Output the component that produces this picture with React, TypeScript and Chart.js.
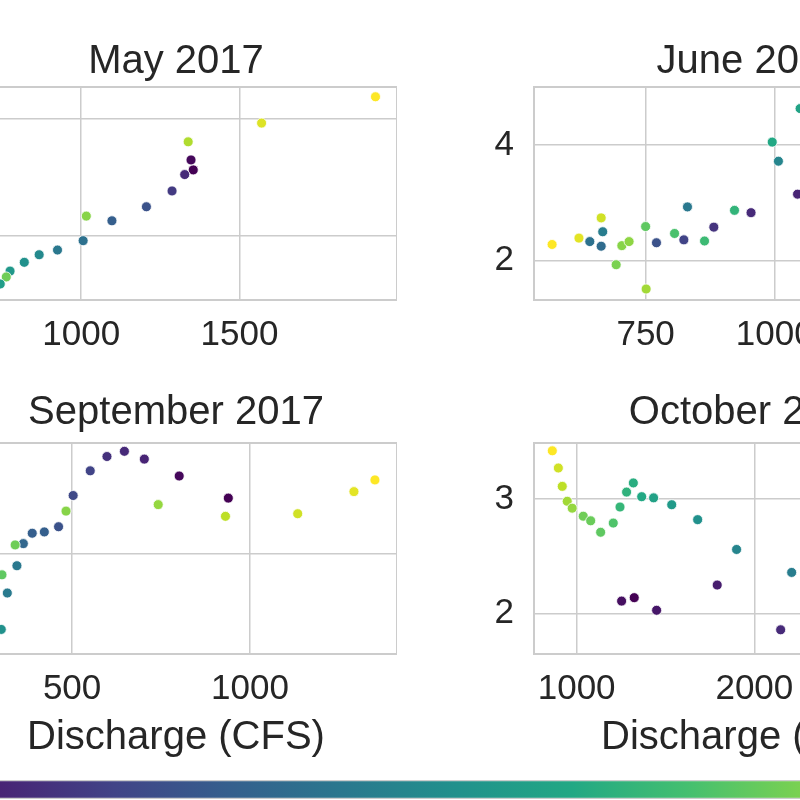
import React, { useEffect, useRef } from "react";
import { Chart, registerables } from "chart.js";

Chart.register(...registerables);

// ---------- data ----------
// May 2017
const mayDischarge = [1930, 1570, 1338, 1354, 1347, 1327, 1287, 1206, 1097, 1016, 1006, 925, 867, 820, 775, 763, 744];
const mayStage = [6.38, 5.93, 5.61, 5.13, 5.30, 5.05, 4.77, 4.50, 4.26, 4.34, 3.92, 3.76, 3.68, 3.55, 3.40, 3.30, 3.18];
const mayTime = [1.0, 0.95, 0.88, 0.0, 0.02, 0.12, 0.17, 0.25, 0.3, 0.82, 0.37, 0.4, 0.47, 0.5, 0.53, 0.78, 0.55];
const mayXTicks = [1000, 1500];
const mayYTicks = [4, 6];

// June 2017
const junDischarge = [569, 621, 664, 642, 667, 664, 704, 718, 693, 750, 751, 771, 831, 806, 824, 864, 882, 922, 954, 995, 1007, 1044, 1049];
const junStage = [2.28, 2.39, 2.74, 2.33, 2.50, 2.25, 2.26, 2.33, 1.93, 2.59, 1.51, 2.31, 2.93, 2.47, 2.36, 2.34, 2.58, 2.87, 2.83, 4.05, 3.72, 3.15, 4.63];
const junTime = [1.0, 0.96, 0.93, 0.37, 0.42, 0.35, 0.82, 0.83, 0.8, 0.75, 0.86, 0.25, 0.4, 0.71, 0.2, 0.68, 0.15, 0.65, 0.12, 0.6, 0.45, 0.1, 0.58];
const junXTicks = [750, 1000];
const junYTicks = [2, 4];

// September 2017
const sepDischarge = [647, 598, 703, 551, 801, 939, 1351, 1292, 1134, 931, 742, 503, 483, 462, 422, 388, 363, 340, 345, 303, 318, 301];
const sepStage = [3.79, 3.75, 3.73, 3.64, 3.60, 3.43, 3.57, 3.48, 3.31, 3.29, 3.38, 3.45, 3.33, 3.21, 3.17, 3.16, 3.08, 3.07, 2.91, 2.84, 2.70, 2.42];
const sepTime = [0.12, 0.14, 0.1, 0.2, 0.02, 0.0, 1.0, 0.96, 0.93, 0.9, 0.84, 0.22, 0.82, 0.25, 0.3, 0.3, 0.33, 0.78, 0.4, 0.75, 0.41, 0.5];
const sepXTicks = [500, 1000];
const sepYTicks = [3];

// October 2017
const octDischarge = [863, 897, 919, 947, 975, 1037, 1079, 1135, 1206, 1244, 1281, 1319, 1366, 1433, 1535, 1681, 1900, 2210, 1791, 1253, 1324, 1450, 2148];
const octStage = [3.42, 3.27, 3.11, 2.98, 2.92, 2.85, 2.81, 2.71, 2.79, 2.93, 3.06, 3.14, 3.02, 3.01, 2.95, 2.82, 2.56, 2.36, 2.25, 2.11, 2.14, 2.03, 1.86];
const octTime = [1.0, 0.93, 0.9, 0.86, 0.84, 0.78, 0.77, 0.75, 0.72, 0.66, 0.64, 0.62, 0.6, 0.57, 0.54, 0.5, 0.45, 0.42, 0.08, 0.04, 0.0, 0.06, 0.12];
const octXTicks = [1000, 2000];
const octYTicks = [2, 3];

const colorbarRange = [0, 1];
const xLabel = "Discharge (CFS)";

// ---------- styling ----------
const FONT = "'Liberation Sans', Arial, Helvetica, sans-serif";
const TEXT = "#262626";
const GRID = "#cccccc";
const VIRIDIS = ["#440154", "#482475", "#414487", "#355f8d", "#2a788e", "#21918c", "#22a884", "#44bf70", "#7ad151", "#bddf26", "#fde725"];

function hexToRgb(h: string) {
  const n = parseInt(h.slice(1), 16);
  return [(n >> 16) & 255, (n >> 8) & 255, n & 255];
}
function viridis(t: number) {
  const c = Math.max(0, Math.min(1, t)) * 10;
  const i = Math.min(9, Math.floor(c));
  const f = c - i;
  const a = hexToRgb(VIRIDIS[i]);
  const b = hexToRgb(VIRIDIS[i + 1]);
  const m = a.map((v, k) => Math.round(v + (b[k] - v) * f));
  return `rgb(${m[0]},${m[1]},${m[2]})`;
}

const framePlugin = {
  id: "frame",
  beforeDatasetsDraw(chart: any) {
    const { ctx, chartArea } = chart;
    const { left, top, right, bottom } = chartArea;
    ctx.save();
    ctx.strokeStyle = GRID;
    ctx.lineWidth = 2;
    ctx.strokeRect(left, top, right - left, bottom - top);
    ctx.restore();
  },
};

type Panel = {
  title: string;
  x: number[];
  y: number[];
  c: number[];
  xMin: number; xMax: number; yMin: number; yMax: number;
  xTicks: number[]; yTicks: number[];
  xTitle: string | null;
  left: number; top: number; width: number; height: number;
  titlePad: { top: number; bottom: number };
  axisH: number;
};

const Y_AXIS_W = 80;

const panels: Panel[] = [
  {
    title: "May 2017", x: mayDischarge, y: mayStage, c: mayTime,
    xMin: 601, xMax: 1998, yMin: 2.906, yMax: 6.547, xTicks: mayXTicks, yTicks: mayYTicks,
    xTitle: null, left: -45 - Y_AXIS_W, top: 30, width: Y_AXIS_W + 442, height: 330,
    titlePad: { top: 8, bottom: 1 }, axisH: 60,
  },
  {
    title: "June 2017", x: junDischarge, y: junStage, c: junTime,
    xMin: 534, xMax: 1370, yMin: 1.32, yMax: 5.003, xTicks: junXTicks, yTicks: junYTicks,
    xTitle: null, left: 534 - Y_AXIS_W, top: 30, width: Y_AXIS_W + 432, height: 330,
    titlePad: { top: 8, bottom: 1 }, axisH: 60,
  },
  {
    title: "September 2017", x: sepDischarge, y: sepStage, c: sepTime,
    xMin: 171, xMax: 1413, yMin: 2.231, yMax: 3.854, xTicks: sepXTicks, yTicks: sepYTicks,
    xTitle: xLabel, left: -45 - Y_AXIS_W, top: 381, width: Y_AXIS_W + 442, height: 381,
    titlePad: { top: 8, bottom: 6 }, axisH: 108,
  },
  {
    title: "October 2017", x: octDischarge, y: octStage, c: octTime,
    xMin: 760, xMax: 3191, yMin: 1.649, yMax: 3.488, xTicks: octXTicks, yTicks: octYTicks,
    xTitle: xLabel, left: 534 - Y_AXIS_W, top: 381, width: Y_AXIS_W + 432, height: 381,
    titlePad: { top: 8, bottom: 6 }, axisH: 108,
  },
];

function makePanel(canvas: HTMLCanvasElement, p: Panel) {
  return new Chart(canvas, {
    type: "scatter",
    data: {
      datasets: [
        {
          data: p.x.map((v, i) => ({ x: v, y: p.y[i] })),
          pointBackgroundColor: p.c.map(viridis),
          pointBorderColor: "#ffffff",
          pointBorderWidth: 0.8,
          pointRadius: 5,
          pointHoverRadius: 5,
        } as any,
      ],
    },
    options: {
      responsive: false,
      animation: false,
      events: [],
      layout: { padding: 0, autoPadding: false } as any,
      plugins: {
        legend: { display: false },
        tooltip: { enabled: false },
        title: {
          display: true,
          text: p.title,
          color: TEXT,
          font: { size: 40, family: FONT, weight: "normal" },
          padding: p.titlePad,
          fullSize: false,
        } as any,
      },
      scales: {
        x: {
          type: "linear",
          min: p.xMin,
          max: p.xMax,
          afterBuildTicks: (s: any) => { s.ticks = p.xTicks.map((v) => ({ value: v })); },
          afterFit: (s: any) => { s.height = p.axisH; s.paddingLeft = 0; s.paddingRight = 0; },
          grid: { color: GRID, lineWidth: 1.5, drawTicks: false },
          border: { display: false },
          ticks: {
            padding: 14, color: TEXT, autoSkip: false, maxRotation: 0,
            font: { size: 35, family: FONT },
            callback: (v: any) => String(v),
          },
          title: p.xTitle
            ? { display: true, text: p.xTitle, color: TEXT, font: { size: 40, family: FONT }, padding: { top: 0, bottom: 0 } }
            : { display: false },
        } as any,
        y: {
          type: "linear",
          min: p.yMin,
          max: p.yMax,
          afterBuildTicks: (s: any) => { s.ticks = p.yTicks.map((v) => ({ value: v })); },
          afterFit: (s: any) => { s.width = Y_AXIS_W; s.paddingTop = 0; s.paddingBottom = 0; },
          grid: { color: GRID, lineWidth: 1.5, drawTicks: false },
          border: { display: false },
          ticks: {
            padding: 20, color: TEXT, autoSkip: false,
            font: { size: 35, family: FONT },
            callback: (v: any) => String(v),
          },
        } as any,
      },
    },
    plugins: [framePlugin],
  });
}

function makeColorbar(canvas: HTMLCanvasElement) {
  return new Chart(canvas, {
    type: "bar",
    data: {
      labels: [""],
      datasets: [
        {
          data: [colorbarRange as any],
          backgroundColor: (ctx: any) => {
            const ca = ctx.chart.chartArea;
            if (!ca) return VIRIDIS[0];
            const g = ctx.chart.ctx.createLinearGradient(ca.left, 0, ca.right, 0);
            VIRIDIS.forEach((c, i) => g.addColorStop(i / (VIRIDIS.length - 1), c));
            return g;
          },
          borderColor: GRID,
          borderWidth: 1.5,
          borderSkipped: false,
          barPercentage: 1,
          categoryPercentage: 1,
        } as any,
      ],
    },
    options: {
      indexAxis: "y",
      responsive: false,
      animation: false,
      events: [],
      layout: { padding: 0, autoPadding: false } as any,
      plugins: { legend: { display: false }, tooltip: { enabled: false } },
      scales: {
        x: { type: "linear", min: colorbarRange[0], max: colorbarRange[1], display: false },
        y: { display: false },
      },
    },
  });
}

export default function App() {
  const refs = [useRef<HTMLCanvasElement>(null), useRef<HTMLCanvasElement>(null), useRef<HTMLCanvasElement>(null), useRef<HTMLCanvasElement>(null)];
  const cbRef = useRef<HTMLCanvasElement>(null);

  useEffect(() => {
    Chart.defaults.font.family = FONT;
    const charts: Chart[] = [];
    panels.forEach((p, i) => {
      if (refs[i].current) charts.push(makePanel(refs[i].current!, p));
    });
    if (cbRef.current) charts.push(makeColorbar(cbRef.current));
    return () => charts.forEach((c) => c.destroy());
  }, []);

  return (
    <div style={{ position: "absolute", left: 0, top: 0, width: 800, height: 800, overflow: "hidden", background: "#ffffff" }}>
      {panels.map((p, i) => (
        <canvas
          key={p.title}
          ref={refs[i]}
          width={p.width}
          height={p.height}
          style={{ position: "absolute", left: p.left, top: p.top }}
        />
      ))}
      <canvas ref={cbRef} width={1143} height={19} style={{ position: "absolute", left: -114, top: 780 }} />
    </div>
  );
}
